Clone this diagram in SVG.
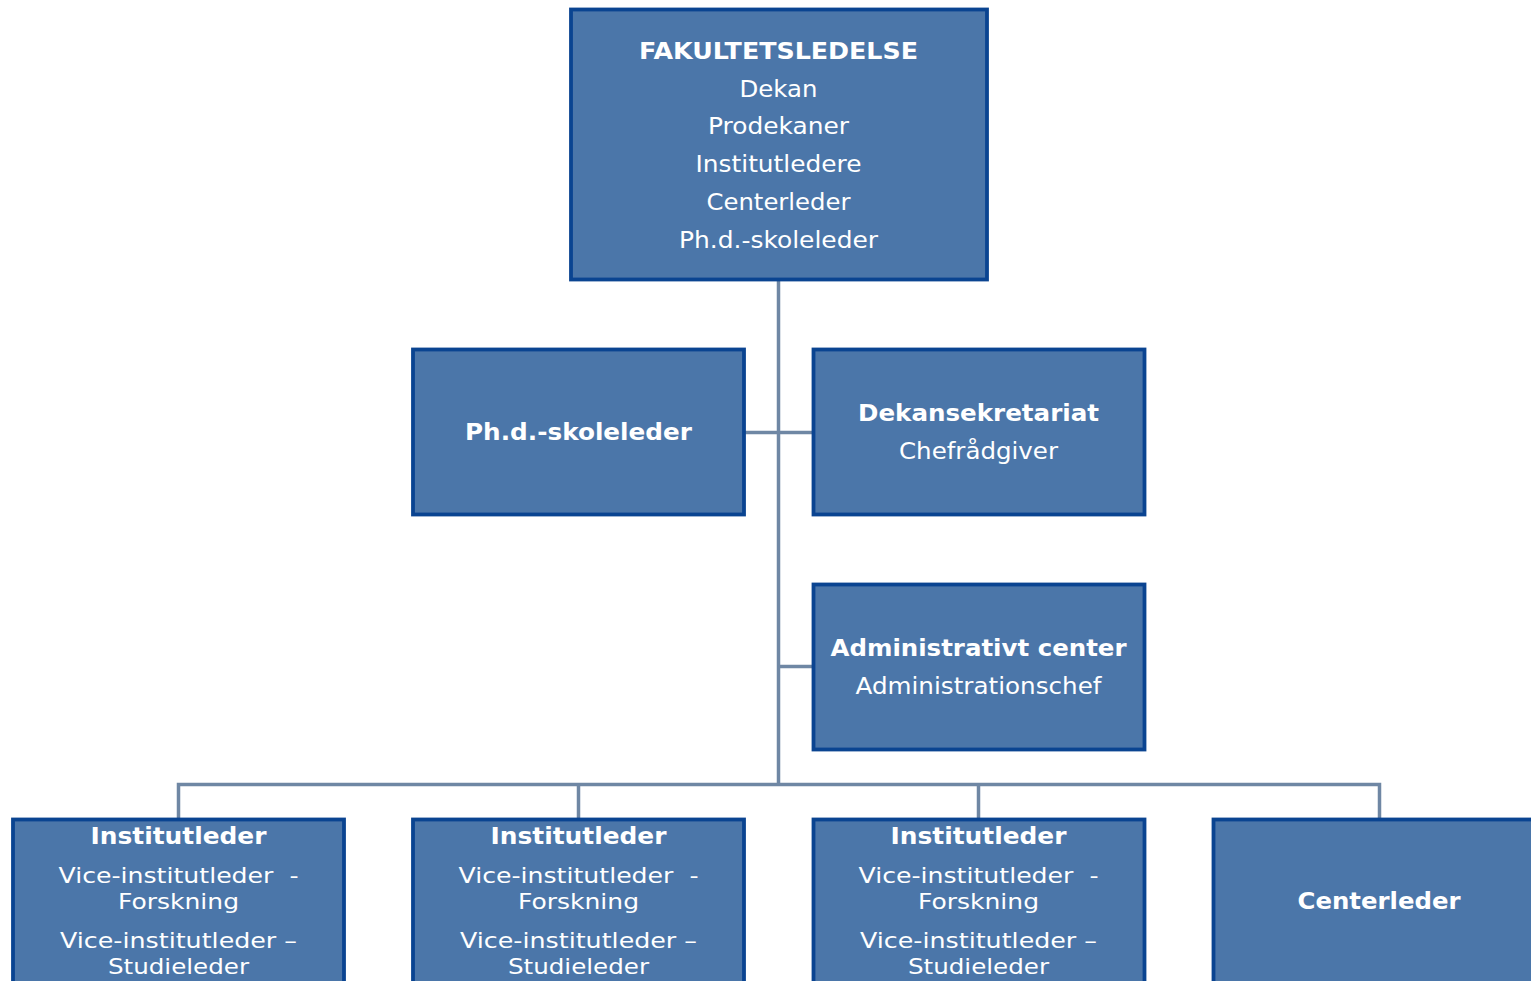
<svg xmlns="http://www.w3.org/2000/svg" width="1531" height="981" viewBox="0 0 1531 981">
<style>
.box{fill:#4B76A9;stroke:#0A4491;stroke-width:3.8}
.con{stroke:#6F87A4;stroke-width:3.5;fill:none}
text{font-family:"DejaVu Sans",Verdana,sans-serif;fill:#FFFFFF;text-anchor:middle;white-space:pre}
.b{font-weight:bold;font-size:23px}
.r{font-size:23px}
.s{font-size:22px}
</style>
<rect width="1531" height="981" fill="#FFFFFF"/>
<g id="connectors">
<path class="con" d="M778.5 280 V784.5"/>
<path class="con" d="M745 432.5 H813"/>
<path class="con" d="M778.5 666.5 H813"/>
<path class="con" d="M178.5 819 V784.5 H1379.5 V819"/>
<path class="con" d="M578.5 784.5 V819"/>
<path class="con" d="M978.5 784.5 V819"/>
</g>
<g id="fakultetsledelse">
<rect class="box" x="571" y="9.5" width="416" height="270"/>
<text class="b" x="778.5" y="59" textLength="279" lengthAdjust="spacingAndGlyphs">FAKULTETSLEDELSE</text>
<text class="r" x="778.5" y="97" textLength="78" lengthAdjust="spacingAndGlyphs">Dekan</text>
<text class="r" x="778.5" y="134" textLength="141" lengthAdjust="spacingAndGlyphs">Prodekaner</text>
<text class="r" x="778.5" y="172" textLength="166" lengthAdjust="spacingAndGlyphs">Institutledere</text>
<text class="r" x="778.5" y="210" textLength="144" lengthAdjust="spacingAndGlyphs">Centerleder</text>
<text class="r" x="778.5" y="248" textLength="199" lengthAdjust="spacingAndGlyphs">Ph.d.-skoleleder</text>
</g>
<g id="phd">
<rect class="box" x="413" y="349.5" width="331" height="165"/>
<text class="b" x="578.5" y="440" textLength="227" lengthAdjust="spacingAndGlyphs">Ph.d.-skoleleder</text>
</g>
<g id="dekansekretariat">
<rect class="box" x="813.5" y="349.5" width="331" height="165"/>
<text class="b" x="978.5" y="421" textLength="241" lengthAdjust="spacingAndGlyphs">Dekansekretariat</text>
<text class="r" x="978.5" y="459" textLength="159" lengthAdjust="spacingAndGlyphs">Chefrådgiver</text>
</g>
<g id="administrativt">
<rect class="box" x="813.5" y="584.5" width="331" height="165"/>
<text class="b" x="978.5" y="656" textLength="296" lengthAdjust="spacingAndGlyphs">Administrativt center</text>
<text class="r" x="978.5" y="694" textLength="246" lengthAdjust="spacingAndGlyphs">Administrationschef</text>
</g>
<g id="institut1">
<rect class="box" x="13" y="819.5" width="331" height="200"/>
<text class="b" x="178.5" y="844" textLength="176" lengthAdjust="spacingAndGlyphs">Institutleder</text>
<text class="s" x="178.5" y="883" textLength="240" lengthAdjust="spacingAndGlyphs">Vice-institutleder  -</text>
<text class="s" x="178.5" y="909" textLength="121" lengthAdjust="spacingAndGlyphs">Forskning</text>
<text class="s" x="178.5" y="948" textLength="237" lengthAdjust="spacingAndGlyphs">Vice-institutleder –</text>
<text class="s" x="178.5" y="974" textLength="141" lengthAdjust="spacingAndGlyphs">Studieleder</text>
</g>
<g id="institut2">
<rect class="box" x="413" y="819.5" width="331" height="200"/>
<text class="b" x="578.5" y="844" textLength="176" lengthAdjust="spacingAndGlyphs">Institutleder</text>
<text class="s" x="578.5" y="883" textLength="240" lengthAdjust="spacingAndGlyphs">Vice-institutleder  -</text>
<text class="s" x="578.5" y="909" textLength="121" lengthAdjust="spacingAndGlyphs">Forskning</text>
<text class="s" x="578.5" y="948" textLength="237" lengthAdjust="spacingAndGlyphs">Vice-institutleder –</text>
<text class="s" x="578.5" y="974" textLength="141" lengthAdjust="spacingAndGlyphs">Studieleder</text>
</g>
<g id="institut3">
<rect class="box" x="813.5" y="819.5" width="331" height="200"/>
<text class="b" x="978.5" y="844" textLength="176" lengthAdjust="spacingAndGlyphs">Institutleder</text>
<text class="s" x="978.5" y="883" textLength="240" lengthAdjust="spacingAndGlyphs">Vice-institutleder  -</text>
<text class="s" x="978.5" y="909" textLength="121" lengthAdjust="spacingAndGlyphs">Forskning</text>
<text class="s" x="978.5" y="948" textLength="237" lengthAdjust="spacingAndGlyphs">Vice-institutleder –</text>
<text class="s" x="978.5" y="974" textLength="141" lengthAdjust="spacingAndGlyphs">Studieleder</text>
</g>
<g id="centerleder">
<rect class="box" x="1213.5" y="819.5" width="331" height="200"/>
<text class="b" x="1379" y="909" textLength="163" lengthAdjust="spacingAndGlyphs">Centerleder</text>
</g>
</svg>
